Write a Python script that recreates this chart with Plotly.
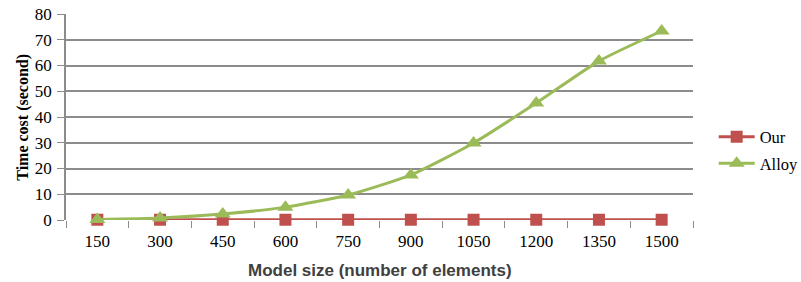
import plotly.graph_objects as go

categories = ["150", "300", "450", "600", "750", "900", "1050", "1200", "1350", "1500"]
our_values = [0.1, 0.1, 0.1, 0.1, 0.1, 0.1, 0.1, 0.1, 0.1, 0.1]
alloy_values = [0.2, 0.8, 2.3, 5.0, 9.7, 17.5, 29.9, 45.4, 61.7, 73.4]
y_ticks = [0, 10, 20, 30, 40, 50, 60, 70, 80]

RED = "#C0504D"
GREEN = "#9BBB59"
GRID = "#8C8C8C"
serif = "Liberation Serif, Times New Roman, serif"

fig = go.Figure()
fig.add_trace(go.Scatter(
    x=categories, y=our_values, name="Our", mode="lines+markers",
    legendgroup="our", cliponaxis=False,
    line=dict(color=RED, width=3),
    marker=dict(symbol="square", size=12, color=RED),
))
fig.add_trace(go.Scatter(
    x=categories, y=alloy_values, name="Alloy", mode="lines+markers",
    legendgroup="alloy", cliponaxis=False,
    line=dict(color=GREEN, width=3, shape="spline", smoothing=0.6),
    marker=dict(symbol="triangle-up", size=14, color=GREEN),
))

fig.update_layout(
    width=801, height=282,
    margin=dict(l=66, r=108, t=14, b=62, autoexpand=False),
    paper_bgcolor="white", plot_bgcolor="white",
    font=dict(family=serif, size=16, color="black"),
    showlegend=True,
    legend=dict(xref="container", yref="container", x=0.891, y=0.468,
                xanchor="left", yanchor="middle",
                font=dict(family=serif, size=16.5, color="black"),
                itemwidth=36, tracegroupgap=2, bgcolor="rgba(0,0,0,0)"),
    xaxis=dict(
        type="category", tickson="boundaries", ticks="outside", ticklen=7,
        tickcolor=GRID, showgrid=False, showline=False, automargin=False,
        tickfont=dict(family=serif, size=17, color="black"),
        ticklabelstandoff=9,
        range=[-0.5, 9.5],
    ),
    yaxis=dict(
        range=[0, 80], tickvals=y_ticks, ticks="outside", ticklen=7,
        tickcolor=GRID, showgrid=True, gridcolor=GRID, gridwidth=1.5,
        showline=True, linecolor=GRID, linewidth=1.5, zeroline=False,
        automargin=False,
        tickfont=dict(family=serif, size=17, color="black"),
        ticklabelstandoff=2,
    ),
    annotations=[
        dict(text="<b>Time cost (second)</b>", xref="paper", yref="paper",
             x=-0.069, y=0.5, xanchor="center", yanchor="middle", textangle=-90,
             showarrow=False, font=dict(family=serif, size=16, color="black")),
        dict(text="<b>Model size (number of elements)</b>", xref="paper", yref="paper",
             x=0.5, y=-0.243, xanchor="center", yanchor="middle",
             showarrow=False, font=dict(family="Liberation Sans, Arial, sans-serif", size=17, color="#404040")),
    ],
)

fig.write_html("out.html", config={"displayModeBar": False},
               post_script="document.body.style.margin='0';document.body.style.padding='0';")
